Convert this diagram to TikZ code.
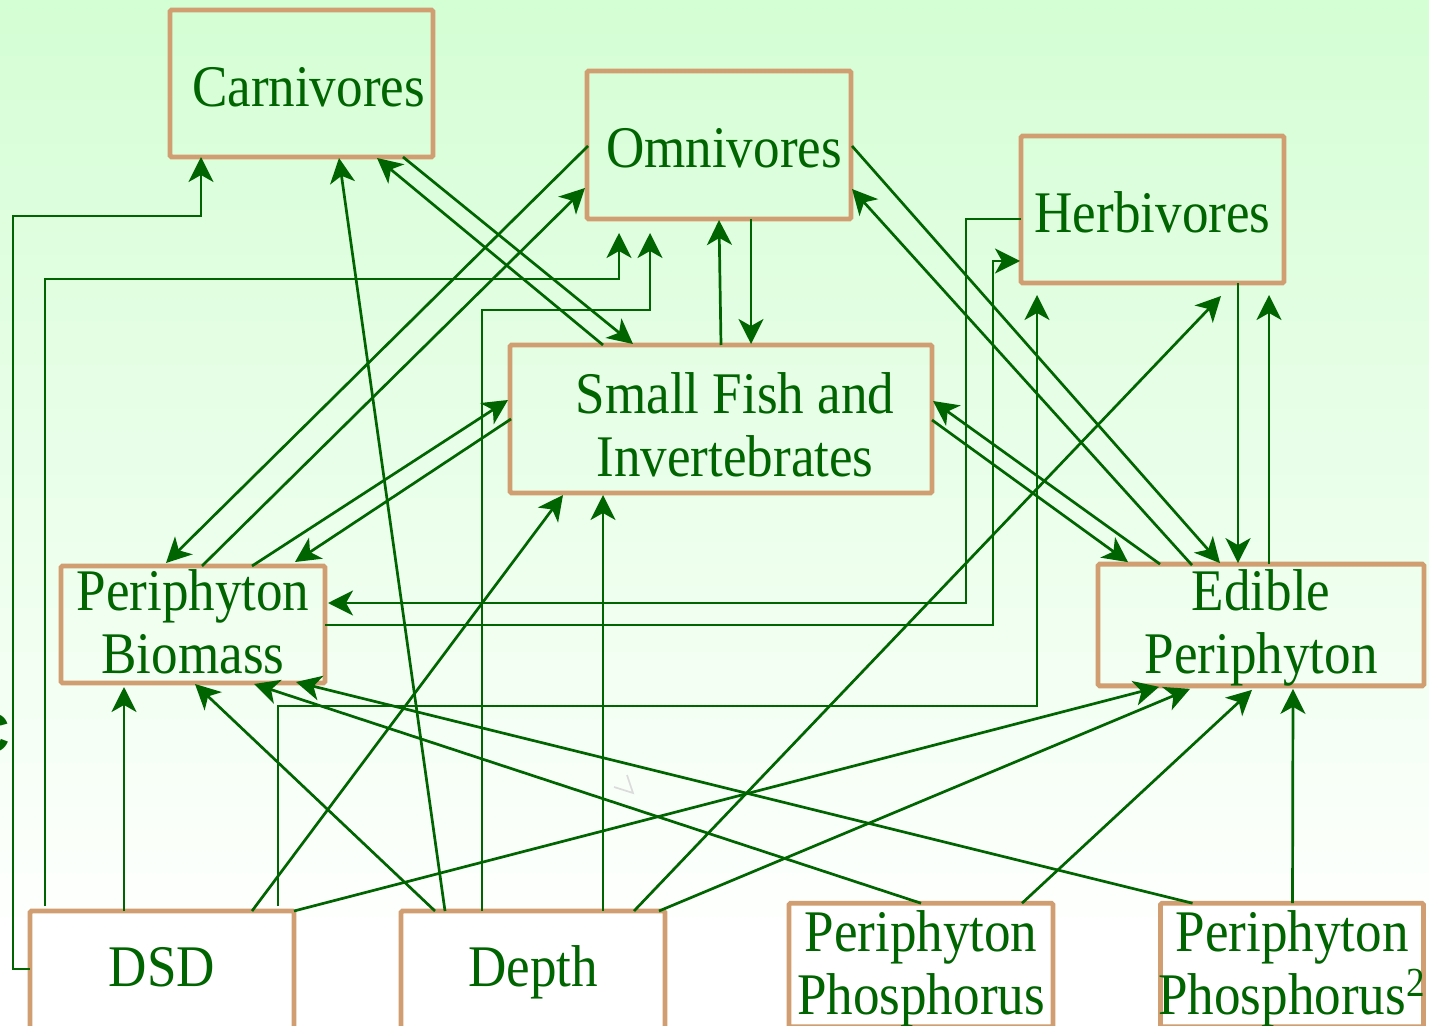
\documentclass[tikz,border=0pt]{standalone}
\usepackage{fontspec}
\setmainfont{Liberation Serif}[FakeStretch=0.9]
\newfontfamily\sansbold{Liberation Sans}
\usetikzlibrary{arrows.meta,calc}
\definecolor{dkgreen}{RGB}{0,100,0}
\definecolor{boxtan}{RGB}{208,158,112}
\definecolor{bgtop}{RGB}{212,254,212}
\begin{document}
\begin{tikzpicture}[x=0.5pt,y=-0.5pt,
  box/.style={draw=boxtan, line width=2.4pt, rounded corners=0.8pt, inner sep=0pt, outer sep=0pt,
    align=center, text=dkgreen, font=\fontsize{29.5}{31.5}\selectfont},
  one/.style={text height=23pt, text depth=0pt},
  low/.style={fill=white, text height=20pt, text depth=20pt},
  conn/.style={draw=dkgreen, line width=1.35pt, -{Stealth[length=12.5pt,width=12.5pt,inset=3.5pt]}}]
\useasboundingbox (0,0) rectangle (1429,1026);
\clip (0,0) rectangle (1429,1026);
\shade[top color=bgtop, bottom color=white] (0,0) rectangle (1429,950);
\fill[white] (0,950) rectangle (1429,1026);

% stray marks
\node[anchor=base east, inner sep=0pt, text=dkgreen, font=\sansbold\bfseries\fontsize{28}{30}\selectfont] (cfrag) at (10,752) {C};
\draw[black!14, line width=0.85pt] (627,775) -- (633,793) -- (614,787);

% nodes
\node[box,one,minimum width=131.5pt,minimum height=73.5pt] (car) at (301.5,83.5) {\hspace*{7pt}Carnivores};
\node[box,one,minimum width=132pt,minimum height=74pt] (omn) at (719,145) {\hspace*{5pt}Omnivores};
\node[box,one,minimum width=131.5pt,minimum height=73.5pt] (her) at (1152.5,209.5) {Herbivores};
\node[box,minimum width=211pt,minimum height=74pt] (sf) at (721,419) {\hspace*{14pt}\rule{0pt}{26pt}Small Fish and\\\hspace*{14pt}Invertebrates};
\node[box,minimum width=132pt,minimum height=58.5pt] (pb) at (193,624.5) {Periphyton\\Biomass\rule[-3pt]{0pt}{0pt}};
\node[box,minimum width=163pt,minimum height=58pt] (ep) at (1261,625) {\rule{0pt}{23pt}Edible\\Periphyton};
\node[box,low,minimum width=132pt,minimum height=75pt] (dsd) at (162,986) {DSD};
\node[box,low,minimum width=132pt,minimum height=75pt] (dep) at (533,986) {Depth};
\node[box,fill=white,minimum width=132pt,minimum height=59pt] (pp) at (921,965) {\rule{0pt}{24pt}Periphyton\\Phosphorus};
\node[box,fill=white,minimum width=131.5pt,minimum height=59pt] (pp2) at (1292,965) {\rule{0pt}{24pt}Periphyton\\\makebox[131pt]{Phosphorus\textsuperscript{2}}};

% connectors
\draw[conn] ($(dsd.north west)+(0,58)$) -- ++(-17,0) -- ++(0,-753) -| ($(car.south west)+(31,0)$);
\draw[conn] ($(dsd.north west)+(15,-5)$) -- ++(0,-627) -| ($(omn.south west)+(32,14)$);
\draw[conn] ($(dep.north west)+(81,0)$) -- ++(0,-601) -| ($(omn.south west)+(63,14)$);
\draw[conn] ($(dep.north west)+(44,0)$) -- ($(car.south west)+(169,1)$);
\draw[conn] ($(sf.north west)+(93,0)$) -- ($(car.south west)+(207,1)$);
\draw[conn] ($(car.south west)+(233,0)$) -- ($(sf.north west)+(123,-1)$);
\draw[conn] ($(omn.north west)+(1,75)$) -- ($(pb.north west)+(105,-3)$);
\draw[conn] ($(pb.north west)+(141,0)$) -- ($(omn.north west)+(-2,117)$);
\draw[conn] ($(pb.north west)+(191,0)$) -- ($(sf.north west)+(-2,55)$);
\draw[conn] ($(sf.north west)+(1,74)$) -- ($(pb.north west)+(234,-4)$);
\draw[conn] ($(sf.north west)+(211,0)$) -- ($(omn.south west)+(132,1)$);
\draw[conn] ($(omn.south west)+(164,0)$) -- ($(sf.north west)+(241,-1)$);
\draw[conn] ($(omn.north east)+(1,75)$) -- ($(ep.north west)+(122,-1)$);
\draw[conn] ($(ep.north west)+(94,1)$) -- ($(omn.north east)+(1,118)$);
\draw[conn] ($(her.south west)+(217,0)$) -- ($(ep.north west)+(140,-1)$);
\draw[conn] ($(ep.north west)+(171,0)$) -- ($(her.south west)+(248,12)$);
\draw[conn] ($(her.north west)+(0,83)$) -- ++(-55,0) |- ($(pb.north east)+(3,37)$);
\draw[conn] ($(pb.north east)+(0,59)$) -- ++(668,0) |- ($(her.north west)+(-1,125)$);
\draw[conn] ($(dsd.north west)+(248,-5)$) -- ++(0,-200) -| ($(her.south west)+(16,12)$);
\draw[conn] ($(dep.north west)+(233,0)$) -- ($(her.south west)+(200,13)$);
\draw[conn] ($(sf.north east)+(0,75)$) -- ($(ep.north west)+(30,-2)$);
\draw[conn] ($(ep.north west)+(62,0)$) -- ($(sf.north east)+(1,56)$);
\draw[conn] ($(dsd.north west)+(222,0)$) -- ($(sf.south west)+(53,2)$);
\draw[conn] ($(dep.north west)+(202,0)$) -- ($(sf.south west)+(93,2)$);
\draw[conn] ($(dsd.north west)+(94,0)$) -- ($(pb.south west)+(63,4)$);
\draw[conn] ($(dep.north west)+(34,0)$) -- ($(pb.south west)+(134,1)$);
\draw[conn] ($(pp.north west)+(132,0)$) -- ($(pb.south west)+(193,1)$);
\draw[conn] ($(pp2.north west)+(32,0)$) -- ($(pb.south west)+(235,-1)$);
\draw[conn] (dsd.north east) -- ($(ep.south west)+(61,1)$);
\draw[conn] ($(dep.north east)+(-6,0)$) -- ($(ep.south west)+(92,3)$);
\draw[conn] ($(pp.north west)+(233,0)$) -- ($(ep.south west)+(154,4)$);
\draw[conn] ($(pp2.north west)+(132,0)$) -- ($(ep.south west)+(195,3)$);
\end{tikzpicture}
\end{document}
